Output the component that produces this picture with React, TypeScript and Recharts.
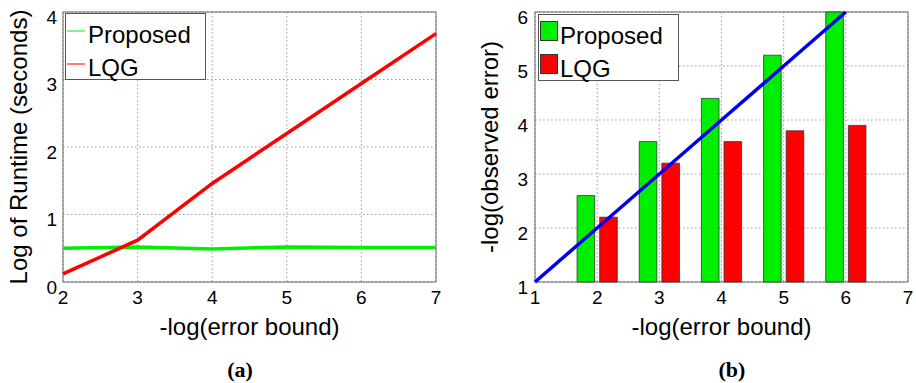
import React from "react";
import {
  ComposedChart,
  Line,
  Bar,
  XAxis,
  YAxis,
  CartesianGrid,
  ReferenceArea,
  Legend,
} from "recharts";

const FONT = '"Liberation Sans", Arial, Helvetica, sans-serif';
const SERIF = '"Liberation Serif", "Times New Roman", serif';

// (a) runtime vs error bound
const boundTicks = [2, 3, 4, 5, 6, 7];
const runtimeTicks = [0, 1, 2, 3, 4];
const proposedRuntime = [0.5, 0.52, 0.49, 0.52, 0.51, 0.51];
const lqgRuntime = [0.12, 0.62, 1.46, 2.2, 2.94, 3.68];

// (b) observed error vs error bound
const errorX = [1, 2, 3, 4, 5, 6];
const errorXTicks = [1, 2, 3, 4, 5, 6, 7];
const observedTicks = [1, 2, 3, 4, 5, 6];
const proposedObserved = [null, 2.6, 3.6, 4.4, 5.2, 6.0];
const lqgObserved = [null, 2.2, 3.2, 3.6, 3.8, 3.9];
const idealLine = [1, 2, 3, 4, 5, 6];

const seriesNames = ["Proposed", "LQG"];
const GREEN = "#00ee00";
const RED = "#ff0000";
const BLUE = "#0000ee";
const markerColor: Record<string, string> = { Proposed: "#88f088", LQG: "#ff7a7a" };

const runtimeData = boundTicks.map((x, i) => ({
  x,
  proposed: proposedRuntime[i],
  lqg: lqgRuntime[i],
}));

const errorData = errorX.map((x, i) => ({
  x,
  proposed: proposedObserved[i],
  lqg: lqgObserved[i],
  ideal: idealLine[i],
}));

const tickStyle = { fontSize: 19, fill: "#000", fontFamily: FONT };

const yLabel = (text: string, cx: number) => (props: any) => {
  const vb = props.viewBox;
  const cy = vb.y + vb.height / 2;
  return (
    <text
      x={cx}
      y={cy}
      transform={`rotate(-90, ${cx}, ${cy})`}
      textAnchor="middle"
      dominantBaseline="central"
      fontSize={24}
      fontFamily={FONT}
      fill="#000"
    >
      {text}
    </text>
  );
};

const xLabel = (text: string) => (props: any) => {
  const vb = props.viewBox;
  return (
    <text
      x={vb.x + vb.width / 2}
      y={vb.y + 53}
      textAnchor="middle"
      fontSize={24}
      fontFamily={FONT}
      fill="#000"
    >
      {text}
    </text>
  );
};

const legendBox: React.CSSProperties = {
  width: 141,
  height: 67,
  border: "1px solid #555",
  background: "#fff",
  boxSizing: "border-box",
  fontFamily: FONT,
  fontSize: 24,
  color: "#000",
  paddingTop: 4,
};

// keep the legend in series order (Recharts sorts it by name otherwise)
const ordered = (payload: any[] = []) =>
  payload
    .filter((p: any) => p.type !== "none")
    .sort((a: any, b: any) => seriesNames.indexOf(a.value) - seriesNames.indexOf(b.value));

function LineLegend(props: any) {
  return (
    <div style={legendBox}>
      {ordered(props.payload).map((p: any) => (
        <div
          key={p.value}
          style={{ position: "relative", height: 33, lineHeight: "33px", paddingLeft: 22 }}
        >
          <span
            style={{
              position: "absolute",
              left: 1,
              top: 12,
              width: 18,
              height: 1.5,
              background: markerColor[p.value] || p.color,
            }}
          />
          {p.value}
        </div>
      ))}
    </div>
  );
}

function BarLegend(props: any) {
  return (
    <div style={legendBox}>
      {ordered(props.payload).map((p: any) => (
        <div
          key={p.value}
          style={{ position: "relative", height: 33, lineHeight: "33px", paddingLeft: 21 }}
        >
          <span
            style={{
              position: "absolute",
              left: 1,
              top: 2,
              width: 18,
              height: 20,
              background: p.value === "LQG" ? RED : GREEN,
              border: "1px solid #333",
              boxSizing: "border-box",
            }}
          />
          {p.value}
        </div>
      ))}
    </div>
  );
}

const caption: React.CSSProperties = {
  position: "absolute",
  width: 80,
  top: 358,
  textAlign: "center",
  fontFamily: SERIF,
  fontWeight: "bold",
  fontSize: 22,
  lineHeight: "24px",
};

export default function App() {
  return (
    <div
      style={{
        position: "absolute",
        left: 0,
        top: 0,
        width: 916,
        height: 383,
        background: "#fff",
      }}
    >
      <div style={{ position: "absolute", left: 0, top: 0 }}>
        <ComposedChart
          width={460}
          height={345}
          data={runtimeData}
          margin={{ top: 12, right: 24, bottom: 0, left: 0 }}
        >
          <CartesianGrid stroke="#999" strokeDasharray="1.5 2.5" />
          <ReferenceArea x1={2} x2={7} y1={0} y2={4} fill="none" stroke="#666" strokeWidth={1} />
          <XAxis
            dataKey="x"
            type="number"
            domain={[2, 7]}
            ticks={boundTicks}
            axisLine={false}
            tickLine={false}
            tickSize={0}
            tickMargin={9}
            tick={tickStyle}
            height={63}
            label={{ content: xLabel("-log(error bound)") }}
          />
          <YAxis
            type="number"
            domain={[0, 4]}
            ticks={runtimeTicks}
            axisLine={false}
            tickLine={false}
            tickSize={0}
            tickMargin={6}
            tick={{ ...tickStyle, dy: 5 }}
            width={63}
            label={{ content: yLabel("Log of Runtime (seconds)", 18) }}
          />
          <Legend
            layout="vertical"
            align="center"
            verticalAlign="middle"
            wrapperStyle={{ top: 13, left: 65, width: 141 }}
            content={LineLegend}
          />
          <Line
            dataKey="proposed"
            name="Proposed"
            stroke={GREEN}
            strokeWidth={3.5}
            dot={false}
            isAnimationActive={false}
          />
          <Line
            dataKey="lqg"
            name="LQG"
            stroke={RED}
            strokeWidth={3.5}
            dot={false}
            isAnimationActive={false}
          />
        </ComposedChart>
      </div>

      <div style={{ position: "absolute", left: 456, top: 0 }}>
        <ComposedChart
          width={460}
          height={345}
          data={errorData}
          margin={{ top: 12, right: 8, bottom: 0, left: 0 }}
          barGap={5}
        >
          <CartesianGrid stroke="#999" strokeDasharray="1.5 2.5" />
          <ReferenceArea x1={1} x2={7} y1={1} y2={6} fill="none" stroke="#666" strokeWidth={1} />
          <XAxis
            dataKey="x"
            type="number"
            domain={[1, 7]}
            ticks={errorXTicks}
            axisLine={false}
            tickLine={false}
            tickSize={0}
            tickMargin={9}
            tick={tickStyle}
            height={63}
            label={{ content: xLabel("-log(error bound)") }}
          />
          <YAxis
            type="number"
            domain={[1, 6]}
            ticks={observedTicks}
            axisLine={false}
            tickLine={false}
            tickSize={0}
            tickMargin={7}
            tick={{ ...tickStyle, dy: 5 }}
            width={79}
            label={{ content: yLabel("-log(observed error)", 33) }}
          />
          <Legend
            layout="vertical"
            align="center"
            verticalAlign="middle"
            wrapperStyle={{ top: 14, left: 82, width: 141 }}
            content={BarLegend}
          />
          <Bar
            dataKey="proposed"
            name="Proposed"
            fill={GREEN}
            stroke="#333"
            strokeWidth={0.8}
            barSize={17.6}
            isAnimationActive={false}
          />
          <Bar
            dataKey="lqg"
            name="LQG"
            fill={RED}
            stroke="#333"
            strokeWidth={0.8}
            barSize={17.6}
            isAnimationActive={false}
          />
          <Line
            dataKey="ideal"
            stroke={BLUE}
            strokeWidth={3.5}
            dot={false}
            legendType="none"
            isAnimationActive={false}
          />
        </ComposedChart>
      </div>

      <div style={{ ...caption, left: 200 }}>(a)</div>
      <div style={{ ...caption, left: 692 }}>(b)</div>
    </div>
  );
}
